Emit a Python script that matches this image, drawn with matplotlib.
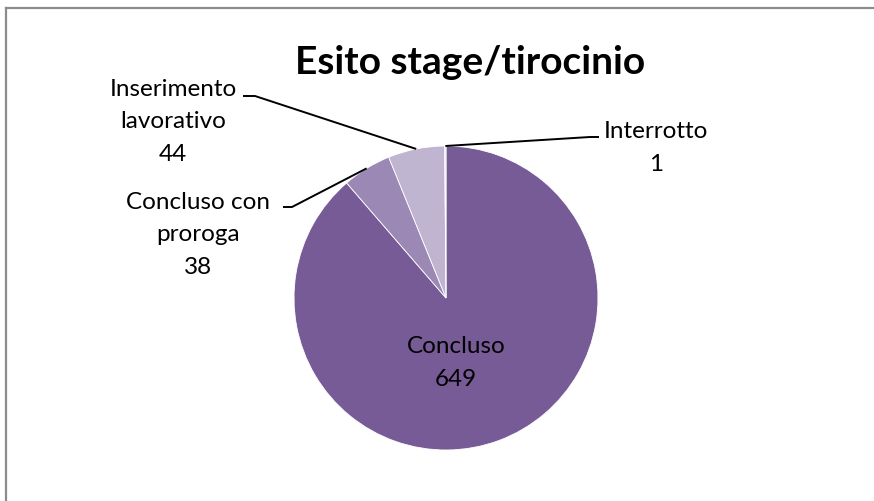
import numpy as np
import matplotlib
matplotlib.use('Agg')
import matplotlib.pyplot as plt
from matplotlib.lines import Line2D

plt.rcParams['font.family'] = ['Lato', 'DejaVu Sans']

# data
categories = ['Concluso', 'Concluso con proroga', 'Inserimento lavorativo', 'Interrotto']
values = [649, 38, 44, 1]
label_text = ['Concluso\n649', 'Concluso con\nproroga\n38', 'Inserimento\nlavorativo\n44', 'Interrotto\n1']
colors = ['#765b97', '#9b88b4', '#c0b5d1', '#dcd5e6']
title = 'Esito stage/tirocinio'

W, H = 874, 501
fig = plt.figure(figsize=(W / 100, H / 100), dpi=100)
fig.patch.set_facecolor('white')
fig.patch.set_edgecolor('none')

# pie centre and radius in pixels
cx, cy, r = 446, 298, 152
ax = fig.add_axes([(cx - r) / W, (H - cy - r) / H, 2 * r / W, 2 * r / H])
wedges, _ = ax.pie(values, colors=colors, startangle=90, counterclock=False,
                   radius=1, wedgeprops=dict(edgecolor='white', linewidth=0.6))
ax.set_xlim(-1, 1)
ax.set_ylim(-1, 1)
ax.axis('off')


def px(x, y):
    # pixel position -> data units of the pie axes
    return (x - cx) / r, (cy - y) / r


def edge_point(w):
    a = np.deg2rad((w.theta1 + w.theta2) / 2)
    return np.cos(a), np.sin(a)


# label layout (pixels): text centre, end of the short horizontal bit, elbow
layout = {
    0: dict(text=(456, 363)),
    1: dict(text=(198, 235), line=[(283, 207), (292, 207)]),
    2: dict(text=(173, 122), line=[(243, 96), (255, 96)]),
    3: dict(text=(656, 148), line=[(599, 137), (590, 137)]),
}

for i, w in enumerate(wedges):
    lay = layout[i]
    tx, ty = px(*lay['text'])
    ax.text(tx, ty, label_text[i], ha='center', va='center', fontsize=17.5,
            linespacing=1.68, color='black', clip_on=False)
    if 'line' in lay:
        (x1, y1), (x2, y2) = [px(*p) for p in lay['line']]
        ex, ey = edge_point(w)
        ax.plot([x1, x2, ex], [y1, y2, ey], color='black', lw=1.4,
                clip_on=False, solid_capstyle='butt')

fig.text(470 / W, 1 - 74 / H, title, ha='center', va='baseline',
         fontsize=28, fontweight='bold')

# chart frame: only the top and left sides fall inside the picture
fx, fy = 6 / W, 1 - 8 / H
fig.lines.append(Line2D([fx, 1.01], [fy, fy], transform=fig.transFigure,
                        color='#8c8c8c', lw=1.6))
fig.lines.append(Line2D([fx, fx], [-0.01, fy], transform=fig.transFigure,
                        color='#8c8c8c', lw=1.6))

fig.savefig('out.png', dpi=100, facecolor='white', edgecolor='none')
